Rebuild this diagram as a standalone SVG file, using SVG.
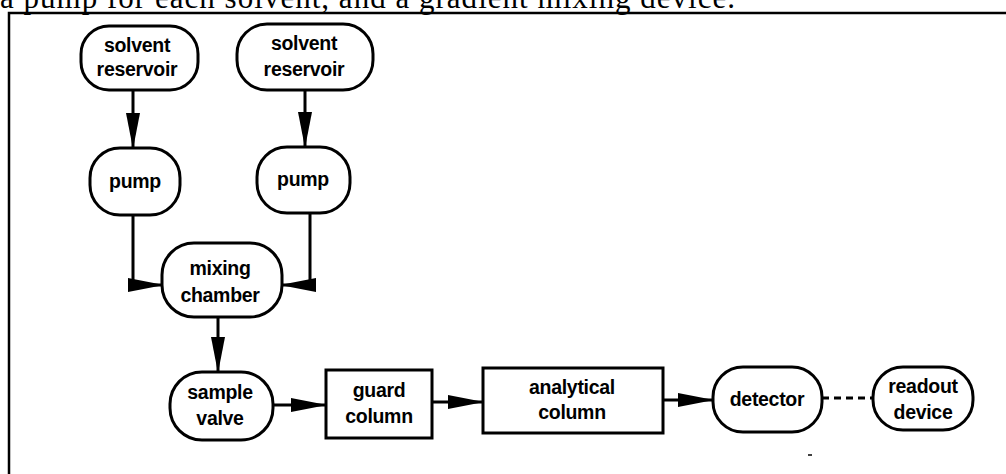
<svg xmlns="http://www.w3.org/2000/svg" width="1006" height="474" viewBox="0 0 1006 474">
  <style>
    .caption { font-family: "Liberation Serif", "Times New Roman", serif; font-size: 31px; fill: #000; }
    .frame { fill: none; stroke: #000; stroke-width: 2.5; }
    .node { fill: #fff; stroke: #000; stroke-width: 3; }
    .label { font-family: "Liberation Sans", Arial, sans-serif; font-weight: bold; font-size: 19.5px; fill: #000; text-anchor: middle; letter-spacing: -0.3px; }
    .flow { fill: none; stroke: #000; stroke-width: 3; marker-end: url(#head); }
    .signal { fill: none; stroke: #000; stroke-width: 3; stroke-dasharray: 7 5; }
  </style>
  <defs>
    <marker id="head" markerUnits="userSpaceOnUse" markerWidth="36" markerHeight="16" refX="35" refY="8" orient="auto">
      <path d="M0,1 L36,8 L0,15 Z" fill="#000"/>
    </marker>
  </defs>

  <rect width="1006" height="474" fill="#fff"/>

  <!-- running caption, clipped by the top of the page -->
  <text class="caption" x="0" y="8" textLength="735" lengthAdjust="spacing">a pump for each solvent, and a gradient mixing device.</text>

  <!-- figure frame -->
  <path class="frame" d="M9,474 V13 H1006"/>

  <g id="connectors">
    <path class="flow" d="M133,90 V148"/>
    <path class="flow" d="M305,90 V147"/>
    <path class="flow" d="M133,215 V285 H163"/>
    <path class="flow" d="M310,213 V285 H281"/>
    <path class="flow" d="M218,317 V372"/>
    <path class="flow" d="M273,405 H326"/>
    <path class="flow" d="M432,402 H483"/>
    <path class="flow" d="M663,400 H713"/>
    <path class="signal" d="M822,398 H873"/>
  </g>

  <g id="reservoir1">
    <rect class="node" x="81" y="26" width="117" height="64" rx="28"/>
    <text class="label" x="137" y="52">solvent</text>
    <text class="label" x="137" y="76">reservoir</text>
  </g>
  <g id="reservoir2">
    <rect class="node" x="237" y="24" width="136" height="66" rx="30"/>
    <text class="label" x="304" y="50">solvent</text>
    <text class="label" x="304" y="76">reservoir</text>
  </g>
  <g id="pump1">
    <rect class="node" x="90" y="148" width="90" height="67" rx="30"/>
    <text class="label" x="135" y="188">pump</text>
  </g>
  <g id="pump2">
    <rect class="node" x="257" y="147" width="93" height="66" rx="30"/>
    <text class="label" x="303" y="186">pump</text>
  </g>
  <g id="mixing-chamber">
    <rect class="node" x="162" y="243" width="120" height="74" rx="32"/>
    <text class="label" x="220" y="275">mixing</text>
    <text class="label" x="220" y="302">chamber</text>
  </g>
  <g id="sample-valve">
    <rect class="node" x="170" y="372" width="103" height="68" rx="32"/>
    <text class="label" x="220" y="399">sample</text>
    <text class="label" x="220" y="425">valve</text>
  </g>
  <g id="guard-column">
    <rect class="node" x="326" y="370" width="106" height="68"/>
    <text class="label" x="379" y="397">guard</text>
    <text class="label" x="379" y="423">column</text>
  </g>
  <g id="analytical-column">
    <rect class="node" x="483" y="368" width="180" height="65"/>
    <text class="label" x="572" y="394">analytical</text>
    <text class="label" x="572" y="419">column</text>
  </g>
  <g id="detector">
    <rect class="node" x="713" y="367" width="109" height="65" rx="30"/>
    <text class="label" x="767" y="406">detector</text>
  </g>
  <g id="readout-device">
    <rect class="node" x="873" y="367" width="100" height="63" rx="30"/>
    <text class="label" x="923" y="393">readout</text>
    <text class="label" x="923" y="419">device</text>
  </g>

  <!-- stray tick below the detector -->
  <path d="M808,455 H812" stroke="#000" stroke-width="1.5"/>
</svg>
